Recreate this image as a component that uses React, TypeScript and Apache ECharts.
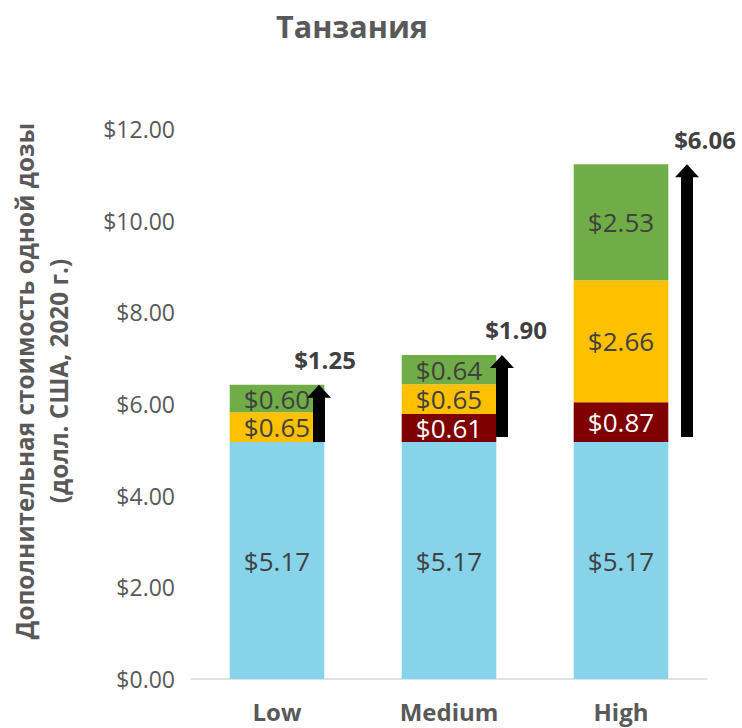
import React, { useEffect, useRef } from "react";
import * as echarts from "echarts";

const categories = ["Low", "Medium", "High"];
const baseCost = [5.17, 5.17, 5.17];
const redCost = [null, 0.61, 0.87];
const orangeCost = [0.65, 0.65, 2.66];
const greenCost = [0.6, 0.64, 2.53];
const arrowStart = [5.17, 5.28, 5.28];
const arrowLabels = ["$1.25", "$1.90", "$6.06"];
const yTicks = { min: 0, max: 12, interval: 2 };

// styling: horizontal pixel offsets of the arrows from the category centre
const arrowOffsetPx = [42, 53, 66];
const labelOffsetPx = [6, 14, 18];

const FONT = "'Open Sans', sans-serif";

export default function App() {
  const ref = useRef<HTMLDivElement>(null);
  useEffect(() => {
    if (!ref.current) return;
    const chart = echarts.init(ref.current, null, { renderer: "svg" });
    const tops = categories.map(
      (_, i) => baseCost[i] + (redCost[i] || 0) + orangeCost[i] + greenCost[i]
    );
    const arrowData = categories.map((_, i) => [i, arrowStart[i], tops[i], arrowLabels[i]]);
    const lbl = (color: string) => ({
      show: true,
      position: "inside",
      color,
      fontFamily: FONT,
      fontSize: 26,
      formatter: (p: any) => (p.value == null ? "" : "$" + Number(p.value).toFixed(2)),
    });
    const mk = (name: string, data: any[], color: string, lc: string) => ({
      name,
      type: "bar",
      stack: "total",
      data,
      barWidth: "55%",
      itemStyle: { color },
      label: lbl(lc),
    });
    chart.setOption({
      animation: false,
      textStyle: { fontFamily: FONT },
      graphic: [
        {
          type: "text",
          x: 352,
          y: 26,
          style: {
            text: "Танзания",
            fontFamily: FONT,
            fontSize: 30.5,
            fontWeight: "bold",
            fill: "#595959",
            align: "center",
            verticalAlign: "middle",
          },
        },
        {
          type: "text",
          x: 41,
          y: 381,
          rotation: Math.PI / 2,
          style: {
            text: "Дополнительная стоимость одной дозы\n(долл. США, 2020 г.)",
            fontFamily: FONT,
            fontSize: 24.3,
            fontWeight: "bold",
            fill: "#595959",
            align: "center",
            verticalAlign: "middle",
            lineHeight: 34,
          },
        },
      ],
      grid: { left: 191, right: 35, top: 129, bottom: 49 },
      xAxis: {
        type: "category",
        data: categories,
        axisLine: { lineStyle: { color: "#D9D9D9", width: 1.5 } },
        axisTick: { show: false },
        axisLabel: {
          color: "#595959",
          fontFamily: FONT,
          fontSize: 24,
          fontWeight: "bold",
          margin: 20,
        },
      },
      yAxis: {
        type: "value",
        min: yTicks.min,
        max: yTicks.max,
        interval: yTicks.interval,
        splitLine: { show: false },
        axisLine: { show: false },
        axisTick: { show: false },
        axisLabel: {
          color: "#595959",
          fontFamily: FONT,
          fontSize: 23,
          margin: 16,
          formatter: (v: number) => "$" + v.toFixed(2),
        },
      },
      series: [
        mk("base", baseCost, "#87D3E9", "#404040"),
        mk("red", redCost, "#7F0000", "#FFFFFF"),
        mk("orange", orangeCost, "#FFC000", "#404040"),
        mk("green", greenCost, "#70AD47", "#404040"),
        {
          type: "custom",
          data: arrowData,
          z: 10,
          renderItem: (params: any, api: any) => {
            const i = api.value(0);
            const p0 = api.coord([i, api.value(1)]);
            const p1 = api.coord([i, api.value(2)]);
            const x = p0[0] + arrowOffsetPx[i];
            const shaftW = 12;
            const headW = 24;
            const headH = 13;
            return {
              type: "group",
              children: [
                {
                  type: "rect",
                  shape: { x: x - shaftW / 2, y: p1[1] + headH - 1, width: shaftW, height: p0[1] - p1[1] - headH + 1 },
                  style: { fill: "#000000" },
                },
                {
                  type: "polygon",
                  shape: {
                    points: [
                      [x - headW / 2, p1[1] + headH],
                      [x, p1[1]],
                      [x + headW / 2, p1[1] + headH],
                    ],
                  },
                  style: { fill: "#000000" },
                },
                {
                  type: "text",
                  x: x + labelOffsetPx[i],
                  y: p1[1] - 25,
                  style: {
                    text: arrowLabels[i],
                    fontFamily: FONT,
                    fontSize: 24,
                    fontWeight: "bold",
                    fill: "#404040",
                    align: "center",
                    verticalAlign: "middle",
                  },
                },
              ],
            };
          },
        },
      ],
    });
    return () => chart.dispose();
  }, []);
  return (
    <div
      ref={ref}
      style={{ position: "absolute", left: 0, top: 0, width: 742, height: 728 }}
    />
  );
}
